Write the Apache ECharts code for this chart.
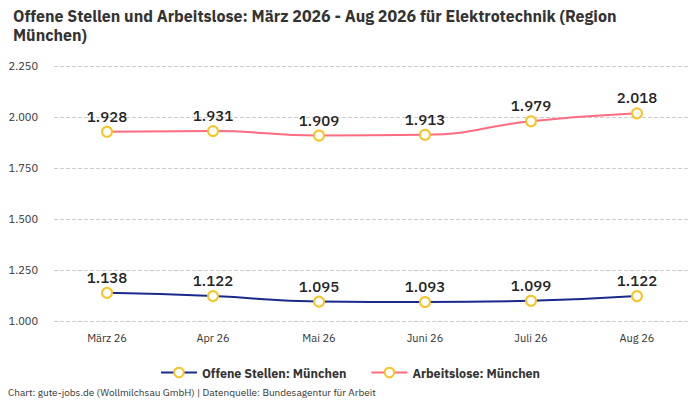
<!DOCTYPE html>
<html>
<head>
<meta charset="utf-8">
<script src="https://cdn.jsdelivr.net/npm/echarts@6/dist/echarts.min.js"></script>
<style>
  html, body { margin: 0; padding: 0; background: #fff; }
  #chart { width: 700px; height: 400px; }
</style>
</head>
<body>
<div id="chart"></div>
<script>
var months = ['März 26', 'Apr 26', 'Mai 26', 'Juni 26', 'Juli 26', 'Aug 26'];
var offeneStellen = [1138, 1122, 1095, 1093, 1099, 1122];
var arbeitslose = [1928, 1931, 1909, 1913, 1979, 2018];
var seriesNames = ['Offene Stellen: München', 'Arbeitslose: München'];

var font = '"IBM Plex Sans", "Noto Sans", sans-serif';

function de(v) {
  return String(Math.round(v)).replace(/\B(?=(\d{3})+(?!\d))/g, '.');
}

var chart = echarts.init(document.getElementById('chart'), null, { renderer: 'svg' });

function lineSeries(name, data, color) {
  return {
    name: name, type: 'line', data: data, smooth: true,
    symbol: 'circle', symbolSize: 10,
    color: color,
    lineStyle: { color: color, width: 2 },
    itemStyle: { color: '#fff', borderColor: '#f7c325', borderWidth: 2 },
    label: {
      show: true, position: 'top', distance: 2,
      color: '#222', fontSize: 15, fontWeight: 500, fontFamily: font,
      formatter: function (p) { return de(p.value); }
    }
  };
}

chart.setOption({
  animation: false,
  textStyle: { fontFamily: font },
  title: {
    text: 'Offene Stellen und Arbeitslose: März 2026 - Aug 2026 für Elektrotechnik (Region München)',
    left: 8, top: 1,
    textStyle: { fontSize: 16, fontWeight: 'bold', color: '#333', width: 680, overflow: 'break', lineHeight: 19, fontFamily: font }
  },
  grid: { left: 54, right: 10, top: 66, bottom: 79 },
  legend: {
    bottom: 16, left: 'center', itemWidth: 36, itemHeight: 12, itemGap: 24,
    textStyle: { fontSize: 12.5, fontWeight: 'bold', color: '#333', fontFamily: font },
    data: seriesNames
  },
  xAxis: {
    type: 'category', data: months, boundaryGap: true,
    axisLine: { show: false }, axisTick: { show: false },
    axisLabel: { color: '#333', fontSize: 11, margin: 11 }
  },
  yAxis: {
    type: 'value', min: 1000, max: 2250, interval: 250,
    axisLabel: { color: '#333', fontSize: 11, margin: 16, align: 'right', formatter: de },
    splitLine: { lineStyle: { color: '#ccc', type: 'dashed' } }
  },
  series: [
    lineSeries(seriesNames[0], offeneStellen, '#1a2a8c'),
    lineSeries(seriesNames[1], arbeitslose, '#ff6b81')
  ],
  graphic: [{
    type: 'text', left: 8, top: 387,
    style: { text: 'Chart: gute-jobs.de (Wollmilchsau GmbH) | Datenquelle: Bundesagentur für Arbeit', fontSize: 10, fill: '#333', fontFamily: font }
  }]
});
</script>
</body>
</html>
